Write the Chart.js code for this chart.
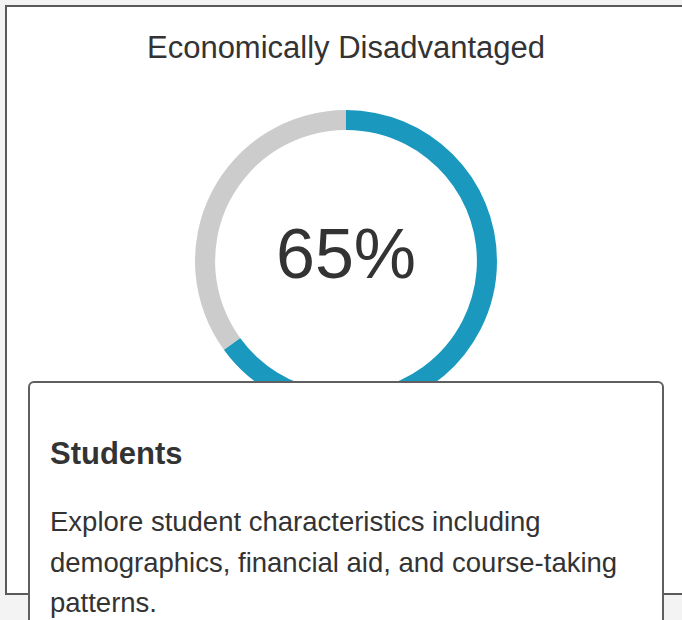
<!DOCTYPE html>
<html>
<head>
<meta charset="utf-8">
<script src="https://cdn.jsdelivr.net/npm/chart.js@4"></script>
<style>
  html, body { margin: 0; padding: 0; }
  body {
    width: 682px; height: 620px; overflow: hidden; position: relative;
    background: #f3f3f3;
    font-family: "Liberation Sans", Arial, Helvetica, sans-serif;
    color: #333;
  }
  .outer {
    position: absolute; left: 5px; top: 5px; width: 700px; height: 586px;
    background: #fff; border: 2px solid #5a5a5a;
  }
  .title {
    position: absolute; left: 5px; top: 32px; width: 682px; text-align: center;
    font-size: 31px; line-height: 31px; white-space: nowrap; color: #333;
  }
  .chart-box { position: absolute; left: 195px; top: 110px; width: 302px; height: 302px; }
  .card {
    position: absolute; left: 28px; top: 381px; width: 632px; height: 300px;
    background: #fff; border: 2px solid #5f5f5f; border-radius: 6px;
  }
  .card h3 {
    position: absolute; left: 20px; top: 55px; margin: 0;
    font-size: 31px; line-height: 31px; font-weight: bold; color: #333; white-space: nowrap;
  }
  .card p {
    position: absolute; left: 20px; top: 119px; margin: 0;
    font-size: 27.5px; line-height: 40.5px; color: #333; white-space: nowrap;
  }
</style>
</head>
<body>
<div class="outer"></div>
<div class="title">Economically Disadvantaged</div>
<div class="chart-box"><canvas id="donut"></canvas></div>
<div class="card">
  <h3>Students</h3>
  <p>Explore student characteristics including<br>demographics, financial aid, and course-taking<br>patterns.</p>
</div>
<script>
// DONUT DATA
var labels = ['Economically Disadvantaged', 'Not Economically Disadvantaged'];
var values = [65, 35];
var colors = ['#1a98be', '#cccccc'];

// center label plugin
var centerText = {
    id: 'centerText',
    afterDraw: function(chart) {
        var meta = chart.getDatasetMeta(0);
        var arc = meta.data[0];
        if (!arc) return;
        var c = chart.ctx;
        c.save();
        c.font = '70px "Liberation Sans", Arial, sans-serif';
        c.fillStyle = '#333';
        c.textAlign = 'center';
        c.textBaseline = 'alphabetic';
        c.fillText(values[0] + '%', arc.x, arc.y + 17);
        c.restore();
    }
};

var ctx = document.querySelector('#donut');
var donut = new Chart(ctx, {
    type: 'doughnut',
    data: {
        labels: labels,
        datasets: [{
            data: values,
            backgroundColor: colors,
            borderWidth: 0
        }]
    },
    options: {
        responsive: true,
        maintainAspectRatio: false,
        animation: false,
        cutout: '86.7%',
        layout: { padding: 0 },
        plugins: {
            legend: { display: false },
            tooltip: { enabled: false }
        }
    },
    plugins: [centerText]
});
</script>
</body>
</html>
